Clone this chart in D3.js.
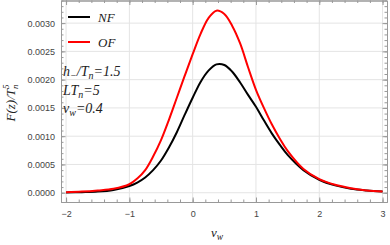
<!DOCTYPE html>
<html>
<head>
<meta charset="utf-8">
<script src="https://cdn.jsdelivr.net/npm/d3@7"></script>
<style>
  body { margin: 0; background: white; }
  svg { display: block; }
  .tick-label { font-family: "Liberation Sans", Arial, sans-serif; font-size: 9px; fill: #444; }
  .math { font-family: "Liberation Serif", "Times New Roman", serif; font-style: italic; fill: #222; }
</style>
</head>
<body>
<div id="chart"></div>
<script>
// x values (v_w) sampled along both curves
const xs = [-2, -1.75, -1.5, -1.25, -1, -0.875, -0.75, -0.625, -0.5, -0.375, -0.25, -0.125,
  0, 0.125, 0.25, 0.375, 0.5, 0.625, 0.75, 0.875, 1, 1.125, 1.25, 1.375, 1.5,
  1.75, 2, 2.25, 2.5, 2.75, 3];
// NF curve (black)
const nfVals = [0.000005, 0.00001, 0.00002, 0.00005, 0.00012, 0.00018, 0.00027, 0.00040, 0.00057, 0.00080, 0.00107, 0.00138,
  0.00168, 0.00196, 0.00216, 0.00227, 0.00226, 0.00214, 0.00195, 0.00173, 0.00152, 0.00128, 0.00105, 0.00085, 0.00067,
  0.00040, 0.00023, 0.00013, 0.00007, 0.00004, 0.00002];
// OF curve (red)
const ofVals = [0.00001, 0.00002, 0.00004, 0.00007, 0.00015, 0.00025, 0.00040, 0.00064, 0.00093, 0.00129, 0.00168, 0.00207,
  0.00245, 0.00281, 0.00309, 0.00322, 0.00316, 0.00295, 0.00264, 0.00222, 0.00182, 0.00150, 0.00121, 0.00096, 0.00074,
  0.00042, 0.00024, 0.00014, 0.00008, 0.00004, 0.00002];

const xTicks = [-2, -1, 0, 1, 2, 3];
const yTicks = [0, 0.0005, 0.0010, 0.0015, 0.0020, 0.0025, 0.0030];

const width = 390, height = 245;
const margin = { top: 0.5, right: 3, bottom: 43, left: 61 };
const innerW = width - margin.left - margin.right;
const innerH = height - margin.top - margin.bottom;

const svg = d3.select('#chart').append('svg')
  .attr('width', width)
  .attr('height', height);

const g = svg.append('g').attr('transform', `translate(${margin.left},${margin.top})`);

const x = d3.scaleLinear().domain([-2.08, 3.07]).range([0, innerW]);
const y = d3.scaleLinear().domain([-0.000164, 0.0034]).range([innerH, 0]);

// grid lines
g.append('g').selectAll('line')
  .data(xTicks).join('line')
  .attr('x1', d => x(d)).attr('x2', d => x(d))
  .attr('y1', 0).attr('y2', innerH)
  .attr('stroke', '#e4e4e4').attr('stroke-width', 1);
g.append('g').selectAll('line')
  .data(yTicks).join('line')
  .attr('x1', 0).attr('x2', innerW)
  .attr('y1', d => y(d)).attr('y2', d => y(d))
  .attr('stroke', '#e4e4e4').attr('stroke-width', 1);

// curves
const line = d3.line().x((d, i) => x(xs[i])).y(d => y(d)).curve(d3.curveCatmullRom.alpha(0.5));

g.append('path').datum(nfVals)
  .attr('d', line).attr('fill', 'none')
  .attr('stroke', '#000').attr('stroke-width', 2);
g.append('path').datum(ofVals)
  .attr('d', line).attr('fill', 'none')
  .attr('stroke', '#ff0000').attr('stroke-width', 2);

// frame with ticks on all sides
const xMinor = d3.range(-2, 3.01, 0.2);
const yMinor = d3.range(0, 0.00341, 0.0001);
const frameColor = '#999';

function addAxis(axisFn, scale, ticks, size, transform, labels) {
  const a = g.append('g').attr('transform', transform)
    .call(axisFn(scale).tickValues(ticks).tickSize(size).tickSizeOuter(0)
      .tickFormat(labels ? labels : ''));
  a.select('.domain').attr('stroke', frameColor);
  a.selectAll('.tick line').attr('stroke', frameColor);
  return a;
}

// minor ticks
addAxis(d3.axisBottom, x, xMinor, -2.5, `translate(0,${innerH})`, null);
addAxis(d3.axisTop, x, xMinor, -2.5, 'translate(0,0)', null);
addAxis(d3.axisLeft, y, yMinor, -2.5, 'translate(0,0)', null);
addAxis(d3.axisRight, y, yMinor, -2.5, `translate(${innerW},0)`, null);

// major ticks
const xb = addAxis(d3.axisBottom, x, xTicks, -4.5, `translate(0,${innerH})`, d => d3.format('d')(d).replace('-', '\u2212'));
xb.selectAll('.tick text').attr('class', 'tick-label').attr('y', 9).attr('dy', '0.71em').attr('font-family', null).attr('font-size', null);
addAxis(d3.axisTop, x, xTicks, -4.5, 'translate(0,0)', null);
const yl = addAxis(d3.axisLeft, y, yTicks, -4.5, 'translate(0,0)', d3.format('.4f'));
yl.selectAll('.tick text').attr('class', 'tick-label').attr('x', -6).attr('font-family', null).attr('font-size', null);
addAxis(d3.axisRight, y, yTicks, -4.5, `translate(${innerW},0)`, null);

// legend
const legend = [
  { name: 'NF', color: '#000', yy: 17 },
  { name: 'OF', color: '#ff0000', yy: 42 }
];
legend.forEach(d => {
  svg.append('line')
    .attr('x1', 68).attr('x2', 90).attr('y1', d.yy).attr('y2', d.yy)
    .attr('stroke', d.color).attr('stroke-width', 2);
  svg.append('text').attr('class', 'math')
    .attr('x', 98).attr('y', d.yy + 4.5)
    .style('font-size', '13px')
    .text(d.name);
});

// parameter annotations
const ann1 = svg.append('text').attr('class', 'math').attr('x', 63).attr('y', 76).style('font-size', '14px');
ann1.append('tspan').text('h');
ann1.append('tspan').attr('dy', 3).style('font-size', '10px').text('\u2212');
ann1.append('tspan').attr('dy', -3).text('/T');
ann1.append('tspan').attr('dy', 3).style('font-size', '10px').text('n');
ann1.append('tspan').attr('dy', -3).text('=1.5');

const ann2 = svg.append('text').attr('class', 'math').attr('x', 63).attr('y', 94.5).style('font-size', '14px');
ann2.append('tspan').text('LT');
ann2.append('tspan').attr('dy', 3).style('font-size', '10px').text('n');
ann2.append('tspan').attr('dy', -3).text('=5');

const ann3 = svg.append('text').attr('class', 'math').attr('x', 63).attr('y', 113).style('font-size', '14px');
ann3.append('tspan').text('v');
ann3.append('tspan').attr('dy', 3).style('font-size', '10px').text('w');
ann3.append('tspan').attr('dy', -3).text('=0.4');

// axis titles
const yt = svg.append('text').attr('class', 'math')
  .attr('transform', 'translate(15,103) rotate(-90)')
  .attr('text-anchor', 'middle')
  .style('font-size', '13px');
yt.append('tspan').text('F(z)/T');
yt.append('tspan').attr('dy', 3).style('font-size', '9px').text('n');
yt.append('tspan').attr('dy', -9).attr('dx', -4.5).style('font-size', '9px').text('5');

const xt = svg.append('text').attr('class', 'math')
  .attr('x', 211).attr('y', 237)
  .style('font-size', '13px');
xt.append('tspan').text('v');
xt.append('tspan').attr('dy', 3).style('font-size', '9.5px').text('w');
</script>
</body>
</html>
